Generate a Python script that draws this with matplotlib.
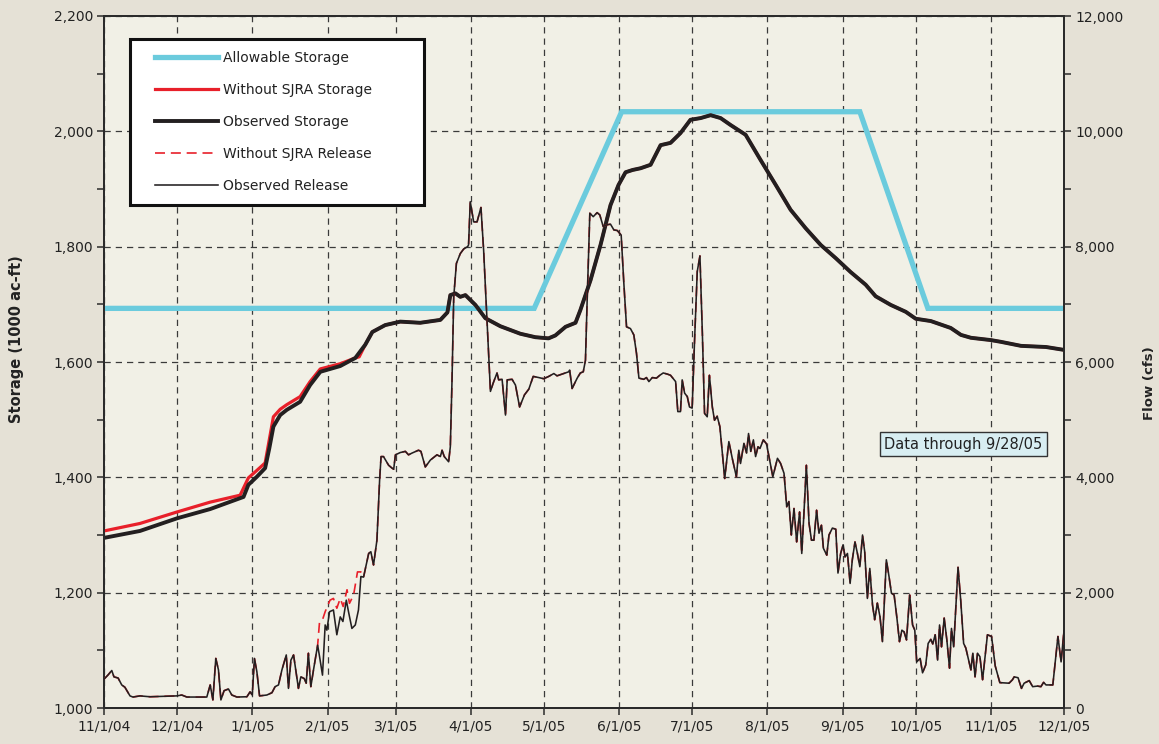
import numpy as np
import matplotlib
matplotlib.use("Agg")
import matplotlib.pyplot as plt
from matplotlib.lines import Line2D
from matplotlib.patches import Rectangle
from matplotlib.ticker import MultipleLocator, FuncFormatter

plt.rcParams['font.family'] = ['DejaVu Sans']

START = np.datetime64('2004-11-01')

# ---------------- data (days since 11/1/04) ----------------
allow_days = [0, 177, 213, 311, 339, 395]
allow_storage = [1693, 1693, 2034, 2034, 1693, 1693]

obs_storage_days = [0, 14.8, 30.1, 43.7, 57.4, 59.4, 62.9, 66.3, 68.0, 69.7, 72.5, 75.2,
                    80.7, 84.8, 89.0, 97.2, 103.4, 107.5, 110.4, 115.7, 121.9, 130.1,
                    138.4, 141.3, 142.5, 144.6, 146.6, 148.7, 152.8, 156.9, 163.1, 171.3,
                    177.5, 182.9, 185.7, 189.9, 194.0, 196.0, 200.2, 204.3, 208.4, 211.7,
                    214.6, 217.5, 220.8, 224.9, 229.0, 233.1, 237.2, 241.3, 245.5, 249.6,
                    253.7, 257.8, 264.0, 270.2, 276.4, 282.5, 288.7, 294.9, 301.1, 307.2,
                    313.4, 317.5, 323.7, 329.9, 334.0, 340.2, 348.4, 352.6, 356.7, 364.9,
                    369.0, 377.3, 387.6, 395]
obs_storage = [1295, 1307, 1329, 1345, 1366, 1387, 1401, 1416, 1450, 1488, 1508, 1517,
               1531, 1560, 1583, 1593, 1607, 1630, 1652, 1664, 1670, 1668,
               1673, 1686, 1716, 1719, 1713, 1716, 1699, 1676, 1662, 1649,
               1643, 1641, 1646, 1661, 1668, 1690, 1742, 1803, 1872, 1907,
               1929, 1933, 1936, 1942, 1976, 1980, 1997, 2020, 2023, 2028,
               2023, 2011, 1994, 1950, 1907, 1864, 1832, 1803, 1780, 1756,
               1734, 1714, 1699, 1687, 1675, 1671, 1659, 1647, 1642, 1638,
               1635, 1628, 1626, 1621]

sjra_storage_days = [0, 14.8, 30.1, 43.7, 56.0, 59.4, 62.9, 66.3, 68.0, 69.7, 72.5, 75.2,
                     80.7, 84.8, 89.0, 97.2, 103.4, 105.0]
sjra_storage = [1307, 1320, 1340, 1357, 1369, 1399, 1412, 1425, 1465, 1505, 1518, 1526,
                1540, 1566, 1588, 1597, 1607, 1609]

obs_release_days = [0, 1.6, 3.2, 4.1, 5.8, 7.3, 8.6, 10.7, 11.9, 14.8, 18.9, 29.9, 32.0, 34.1,
                    42.3, 43.7, 44.8, 46.0, 47.1, 48.1, 49.4, 51.2, 52.6, 54.7, 58.8, 60.1,
                    61.0, 61.9, 62.9, 64.0, 67.0, 69.1, 70.4, 71.8, 73.2, 75.0, 75.9, 76.9,
                    78.0, 80.0, 81.0, 82.4, 83.2, 84.1, 85.1, 86.2, 87.9, 88.7, 89.9, 91.0,
                    91.7, 92.8, 94.4, 95.8, 97.2, 98.3, 99.7, 100.6, 102.0, 103.4, 104.7,
                    105.7, 106.8, 108.9, 109.8, 110.9, 112.3, 113.4, 114.0, 115.0, 117.1,
                    118.5, 119.2, 119.9, 121.9, 124.0, 125.3, 126.7, 129.4, 130.4, 132.2,
                    134.3, 137.0, 138.4, 139.1, 140.0, 141.8, 142.5, 143.2, 143.9, 145.0,
                    146.6, 148.0, 149.6, 150.0, 150.7, 152.1, 153.5, 155.1, 156.2, 157.6,
                    159.0, 160.1, 161.7, 162.4, 163.8, 165.2, 165.9, 167.9, 169.3, 171.0,
                    173.0, 174.8, 176.6, 178.9, 180.9, 183.0, 185.1, 186.4, 189.2, 191.2,
                    191.6, 192.6, 194.7, 196.0, 197.2, 198.1, 198.8, 199.9, 201.3, 202.9,
                    204.0, 205.4, 207.0, 208.4, 209.8, 211.2, 212.8, 213.9, 215.0, 216.6,
                    218.0, 219.1, 220.1, 222.1, 223.2, 224.2, 225.6, 227.3, 228.7, 230.1,
                    231.8, 233.1, 235.2, 236.1, 237.2, 237.9, 238.9, 240.0, 240.9, 242.0,
                    243.0, 244.1, 245.2, 246.2, 247.1, 248.2, 249.1, 250.3, 251.2, 252.3,
                    253.4, 254.4, 255.4, 257.1, 258.5, 260.2, 261.2, 261.9, 263.3, 264.4,
                    265.2, 266.1, 267.2, 268.1, 269.1, 269.9, 271.3, 272.6, 274.0, 275.2,
                    277.1, 278.4, 279.8, 280.9, 281.8, 282.8, 283.9, 285.0, 286.2, 287.1,
                    288.0, 289.0, 290.1, 291.1, 292.1, 293.2, 294.2, 295.2, 296.0, 297.4,
                    298.3, 299.7, 301.1, 302.0, 303.1, 304.1, 304.9, 305.9, 307.0, 307.9,
                    309.0, 310.0, 311.0, 312.1, 313.0, 314.1, 315.1, 316.2, 317.1, 318.2,
                    319.3, 320.3, 321.0, 321.9, 323.0, 324.0, 325.1, 326.2, 327.3, 328.3,
                    329.2, 330.2, 331.5, 332.7, 333.6, 334.4, 335.8, 336.8, 338.1, 339.1,
                    340.2, 341.0, 342.0, 343.0, 343.8, 344.6, 345.7, 346.8, 347.9, 348.7,
                    349.6, 351.4, 352.5, 353.7, 354.6, 355.6, 356.7, 357.5, 358.4, 359.4,
                    360.4, 361.5, 363.5, 365.2, 366.7, 368.6, 372.4, 373.8, 374.5, 376.1,
                    377.5, 378.6, 380.7, 382.1, 384.1, 385.5, 386.6, 387.6, 390.4, 392.5,
                    393.8, 395]
obs_release = [500, 570, 650, 540, 520, 400, 360, 210, 190, 210, 195, 210, 225, 190,
               190, 400, 140, 860, 660, 140, 300, 330, 225, 190, 195, 280,
               225, 860, 630, 210, 225, 265, 370, 400, 660, 920, 340, 830,
               920, 340, 540, 510, 430, 950, 370, 660, 1090, 890, 570, 1440,
               1350, 1670, 1700, 1270, 1580, 1500, 1870, 1670, 1380, 1440, 1700,
               2280, 2270, 2680, 2710, 2480, 2910, 3950, 4360, 4360, 4210,
               4160, 4140, 4390, 4430, 4450, 4390, 4420, 4470, 4450, 4180,
               4300, 4390, 4360, 4470, 4360, 4270, 4530, 5690, 7130, 7710,
               7880, 7960, 8000, 8030, 8780, 8430, 8430, 8680, 7940, 6730,
               5490, 5630, 5810, 5690, 5700, 5080, 5690, 5700, 5600, 5220,
               5430, 5530, 5750, 5730, 5710, 5750, 5800, 5760, 5800, 5830,
               5860, 5540, 5720, 5810, 5830, 6030, 7070, 8580, 8520, 8590,
               8550, 8350, 8380, 8390, 8290, 8280, 8200, 7360, 6610, 6580,
               6470, 6150, 5720, 5700, 5730, 5660, 5730, 5720, 5770, 5810,
               5790, 5770, 5660, 5140, 5140, 5690, 5460, 5400, 5220, 5200,
               6380, 7570, 7840, 6500, 5110, 5050, 5770, 5220, 4990, 5060,
               4880, 4420, 3980, 4620, 4330, 4010, 4470, 4240, 4590, 4420,
               4760, 4450, 4650, 4360, 4530, 4500, 4650, 4580, 4270, 4010,
               4330, 4240, 4070, 3490, 3580, 3000, 3460, 2880, 3400, 2680,
               3380, 4210, 3200, 2910, 2910, 3430, 3030, 3170, 2770, 2650,
               3000, 3120, 3100, 2340, 2680, 2830, 2620, 2680, 2160, 2570,
               2880, 2680, 2450, 3000, 2710, 1900, 2420, 1790, 1530, 1820,
               1580, 1150, 1760, 2570, 2280, 1990, 1960, 1580, 1150, 1350,
               1320, 1180, 1960, 1440, 1350, 800, 860, 610, 745, 1120,
               1190, 1110, 1270, 830, 1440, 1060, 1560, 1180, 690, 1380,
               1060, 2440, 1870, 1120, 1040, 860, 660, 950, 540, 950,
               890, 490, 1270, 1240, 730, 440, 430, 490, 540, 525,
               340, 430, 475, 370, 380, 370, 445, 400, 400, 1240,
               800, 1340]

# Without-SJRA release differs from observed only in this stretch
sjra_seg_days = [87.9, 88.7, 89.9, 91.0, 93.0, 94.4, 95.8, 97.2, 98.4, 100.0, 101.0,
                 102.7, 104.3, 105.7, 106.5]
sjra_seg_release = [1090, 1500, 1530, 1670, 1870, 1900, 1730, 1900, 1760, 2050, 1815,
                    1960, 2360, 2360, 2270]

x_tick_labels = ['11/1/04', '12/1/04', '1/1/05', '2/1/05', '3/1/05', '4/1/05', '5/1/05',
                 '6/1/05', '7/1/05', '8/1/05', '9/1/05', '10/1/05', '11/1/05', '12/1/05']

legend_labels = ['Allowable Storage', 'Without SJRA Storage', 'Observed Storage',
                 'Without SJRA Release', 'Observed Release']
note_text = 'Data through 9/28/05'


def to_dates(days):
    d = np.asarray(days, dtype=float)
    return START.astype('datetime64[s]') + (d * 86400).astype('timedelta64[s]')


# assemble full "without SJRA" series from observed plus differing stretch
ob_d = np.asarray(obs_release_days)
ob_v = np.asarray(obs_release)
seg_lo, seg_hi = sjra_seg_days[0], sjra_seg_days[-1]
sj_rel_d = np.concatenate([ob_d[ob_d < seg_lo], sjra_seg_days, ob_d[ob_d > seg_hi]])
sj_rel_v = np.concatenate([ob_v[ob_d < seg_lo], sjra_seg_release, ob_v[ob_d > seg_hi]])

os_d = np.asarray(obs_storage_days)
os_v = np.asarray(obs_storage)
sj_st_d = np.concatenate([sjra_storage_days, os_d[os_d > sjra_storage_days[-1]]])
sj_st_v = np.concatenate([sjra_storage, os_v[os_d > sjra_storage_days[-1]]])

# ---------------- styling ----------------
FIG_BG = '#E5E1D6'
AX_BG = '#F1F0E6'
BLUE = '#6BCBDD'
RED = '#E8202A'
BLACK = '#231F20'
SPINE = '#2B2B2B'
TXT = '#222222'

fig = plt.figure(figsize=(11.59, 7.44), dpi=100, facecolor=FIG_BG)
ax = fig.add_axes([104/1159, 1-708/744, 960/1159, 692/744])
ax.set_facecolor(AX_BG)
ax2 = ax.twinx()

ax.plot(to_dates(allow_days), allow_storage, color=BLUE, lw=3.8, solid_joinstyle='miter', zorder=3)
ax.plot(to_dates(sj_st_d), sj_st_v, color=RED, lw=2.3, zorder=4)
ax.plot(to_dates(obs_storage_days), obs_storage, color=BLACK, lw=2.8, zorder=5)

ax2.plot(to_dates(sj_rel_d), sj_rel_v, color=RED, lw=1.2, linestyle=(0, (6, 3.5)), zorder=3)
ax2.plot(to_dates(obs_release_days), obs_release, color=BLACK, lw=1.15, zorder=4)

ax.set_xlim(START, np.datetime64('2005-12-01'))
ax.set_ylim(1000, 2200)
ax2.set_ylim(0, 12000)

month_ticks = np.arange(np.datetime64('2004-11'), np.datetime64('2006-01'),
                        dtype='datetime64[M]').astype('datetime64[D]')
ax.set_xticks(month_ticks)
ax.set_xticklabels(x_tick_labels)

ax.yaxis.set_major_locator(MultipleLocator(200))
ax.yaxis.set_minor_locator(MultipleLocator(100))
ax2.yaxis.set_major_locator(MultipleLocator(2000))
ax2.yaxis.set_minor_locator(MultipleLocator(1000))
fmt = FuncFormatter(lambda v, p: f'{v:,.0f}')
ax.yaxis.set_major_formatter(fmt)
ax2.yaxis.set_major_formatter(fmt)

for a in (ax, ax2):
    a.tick_params(which='both', direction='out', color=SPINE, width=1.1,
                  labelsize=10, labelcolor=TXT)
    a.tick_params(which='major', length=5, pad=3)
    a.tick_params(which='minor', length=5)
    for s in a.spines.values():
        s.set_color(SPINE)
        s.set_linewidth(1.4)

ax.grid(True, which='major', axis='both', color='#3A3A3A', lw=0.9,
        linestyle=(0, (5, 4)))
ax.set_axisbelow(True)

fig.text(17/1159, 1-339/744, 'Storage (1000 ac-ft)', rotation=90, ha='center',
         va='center', fontsize=10.5, fontweight='bold', color=TXT)
fig.text(1150/1159, 1-383/744, 'Flow (cfs)', rotation=90, ha='center',
         va='center', fontsize=9.5, fontweight='bold', color=TXT)

# legend: frame drawn as its own rectangle, entries placed inside
frame = Rectangle((26/960, (708-205)/692), 294/960, 166/692, transform=ax2.transAxes,
                  facecolor='white', edgecolor='#111111', linewidth=2.2, zorder=9)
ax2.add_patch(frame)
handles = [Line2D([], [], color=BLUE, lw=3.8),
           Line2D([], [], color=RED, lw=2.3),
           Line2D([], [], color=BLACK, lw=2.8),
           Line2D([], [], color=RED, lw=1.2, linestyle=(0, (6, 3.5))),
           Line2D([], [], color=BLACK, lw=1.15)]
leg = ax2.legend(handles, legend_labels, loc='upper left',
                 bbox_to_anchor=(51/960, (708-51)/692), fontsize=10, frameon=False,
                 handlelength=4.55, handletextpad=0.35, labelspacing=1.3,
                 borderpad=0, borderaxespad=0)
leg.set_zorder(10)
for t in leg.get_texts():
    t.set_color(TXT)

ax2.text(0.895, 0.3815, note_text, transform=ax2.transAxes, ha='center', va='center',
         fontsize=10.5, color=TXT, zorder=10,
         bbox=dict(boxstyle='square,pad=0.3', facecolor='#D8EEF2', edgecolor='#333333',
                   linewidth=1.0))

fig.savefig('out.png', dpi=100, facecolor=FIG_BG)
